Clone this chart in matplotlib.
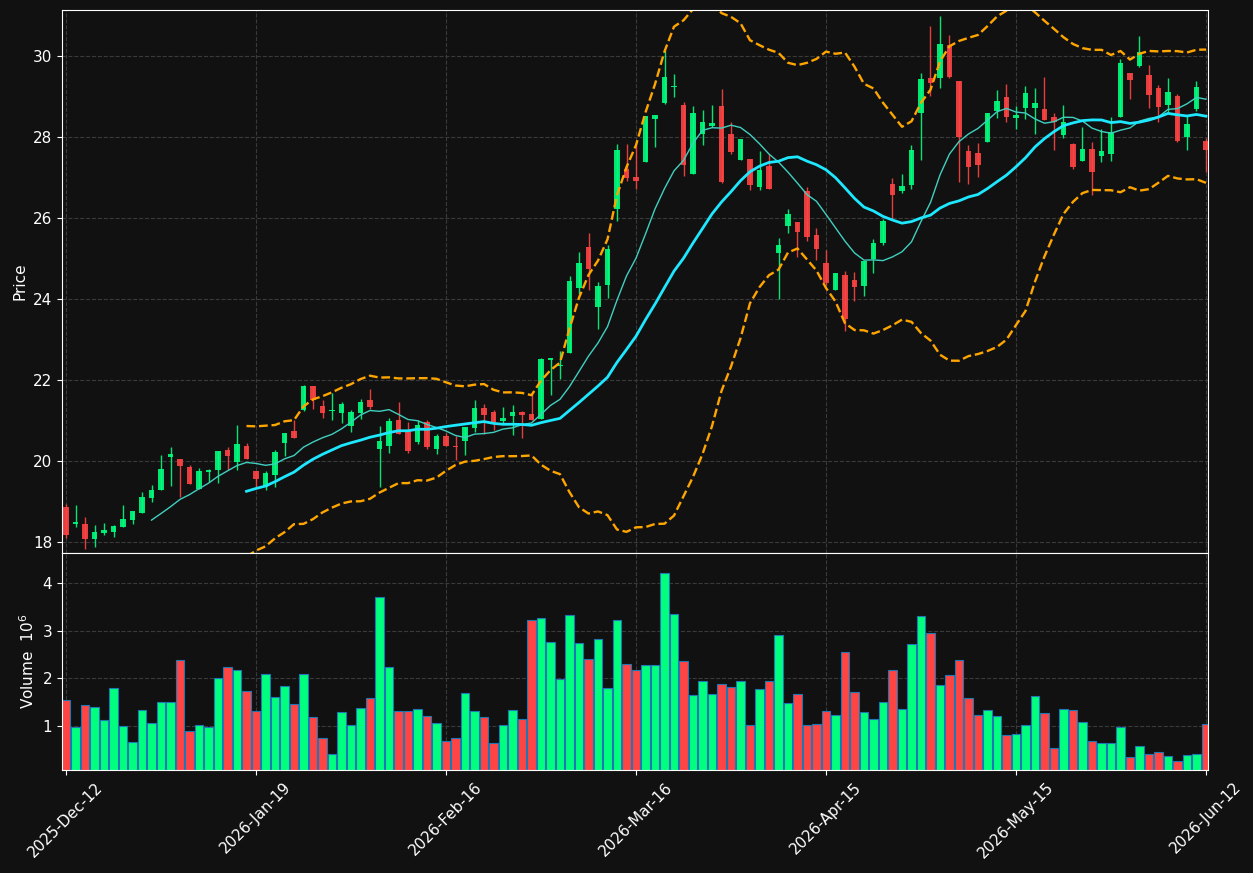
import numpy as np
import pandas as pd
import matplotlib
matplotlib.use("Agg")
import matplotlib.pyplot as plt

# daily OHLC (bar index 0..120)
opens = [18.86, 18.44, 18.44, 18.07, 18.22, 18.25, 18.37, 18.54, 18.72, 19.09,
         19.28, 20.10, 20.05, 19.85, 19.31, 19.73, 19.78, 20.27, 19.98, 20.37,
         19.75, 19.36, 19.65, 20.44, 20.74, 21.26, 21.85, 21.36, 21.23, 21.19,
         20.86, 21.19, 21.51, 20.30, 20.37, 21.01, 20.77, 20.47, 20.96, 20.30,
         20.62, 20.37, 20.49, 20.81, 21.31, 21.21, 20.99, 21.11, 21.21, 21.16,
         21.04, 22.49, 22.35, 22.67, 24.27, 25.28, 23.80, 24.35, 26.22, 27.21,
         27.01, 27.38, 28.44, 28.84, 29.24, 28.79, 27.09, 28.07, 28.27, 28.77,
         28.07, 27.43, 27.46, 26.77, 27.28, 25.14, 25.80, 25.90, 26.67, 25.58,
         24.89, 24.22, 24.59, 24.47, 24.32, 24.99, 25.38, 26.84, 26.67, 26.81,
         28.59, 29.46, 29.46, 30.27, 29.38, 27.65, 27.60, 27.88, 28.64, 28.99,
         28.47, 28.72, 28.72, 28.69, 28.49, 28.05, 27.83, 27.41, 27.70, 27.53,
         27.58, 28.49, 29.58, 29.75, 29.53, 29.21, 28.79, 29.01, 28.00, 28.69,
         27.90]
highs = [18.95, 18.91, 18.63, 18.41, 18.46, 18.43, 18.91, 18.77, 19.23, 19.40,
         20.14, 20.34, 20.05, 19.90, 19.82, 19.80, 20.25, 20.34, 20.89, 20.44,
         19.75, 19.75, 20.27, 20.69, 21.01, 21.88, 21.85, 21.51, 21.67, 21.46,
         21.26, 21.53, 21.78, 20.86, 21.06, 21.46, 20.96, 21.01, 21.01, 20.67,
         20.69, 20.62, 20.84, 21.51, 21.41, 21.26, 21.33, 21.38, 21.23, 21.65,
         22.54, 22.54, 22.71, 24.57, 25.16, 25.63, 24.42, 25.33, 27.83, 27.83,
         27.80, 28.52, 28.54, 30.15, 29.56, 28.86, 28.77, 28.67, 28.79, 29.19,
         28.37, 27.95, 27.46, 27.65, 27.58, 25.51, 26.22, 25.90, 26.77, 25.75,
         25.21, 24.64, 24.69, 24.67, 24.94, 25.48, 25.98, 26.99, 27.09, 27.80,
         29.58, 30.74, 30.99, 30.52, 29.38, 27.80, 27.85, 28.59, 29.16, 29.31,
         28.77, 29.26, 29.21, 29.48, 28.59, 28.79, 27.85, 28.25, 27.88, 28.20,
         28.49, 29.93, 29.58, 30.49, 29.78, 29.28, 29.46, 29.06, 28.54, 29.38,
         27.98]
lows = [18.09, 18.38, 17.84, 17.88, 18.18, 18.13, 18.37, 18.44, 18.72, 19.00,
        19.28, 19.39, 19.12, 19.43, 19.31, 19.48, 19.47, 19.79, 19.79, 20.05,
        19.37, 19.28, 19.37, 20.13, 20.57, 21.23, 21.28, 21.06, 21.01, 20.94,
        20.72, 21.04, 21.28, 19.37, 20.20, 20.67, 20.20, 20.42, 20.30, 20.17,
        20.37, 20.02, 20.15, 20.72, 20.67, 20.77, 20.94, 20.64, 20.57, 21.01,
        21.04, 21.63, 22.03, 22.67, 24.12, 24.22, 23.26, 24.02, 25.93, 26.91,
        26.72, 27.38, 27.75, 28.81, 28.98, 27.04, 27.09, 27.80, 28.25, 26.86,
        27.58, 27.43, 26.69, 26.69, 26.72, 24.00, 25.63, 25.04, 25.43, 24.96,
        24.35, 24.22, 23.20, 23.95, 24.07, 24.64, 25.33, 25.98, 26.62, 26.72,
        27.43, 29.01, 29.21, 29.46, 26.89, 26.84, 27.01, 27.88, 28.47, 28.37,
        28.20, 28.44, 28.07, 28.42, 27.68, 27.98, 27.21, 27.41, 26.57, 27.38,
        27.41, 28.49, 28.94, 29.73, 28.72, 28.37, 28.62, 27.88, 27.68, 28.64,
        27.14]
closes = [18.17, 18.49, 18.07, 18.25, 18.30, 18.40, 18.57, 18.77, 19.11, 19.28,
          19.80, 20.17, 19.88, 19.43, 19.75, 19.78, 20.25, 20.12, 20.42, 20.05,
          19.56, 19.70, 20.22, 20.69, 20.57, 21.85, 21.51, 21.19, 21.26, 21.41,
          21.21, 21.46, 21.33, 20.49, 20.99, 20.67, 20.25, 20.89, 20.35, 20.62,
          20.37, 20.35, 20.84, 21.31, 21.14, 20.96, 21.06, 21.21, 21.14, 21.01,
          22.52, 22.54, 22.36, 24.44, 24.89, 24.74, 24.32, 25.23, 27.68, 26.99,
          26.91, 28.52, 28.54, 29.48, 29.26, 27.31, 28.59, 28.37, 28.35, 26.89,
          27.63, 27.95, 26.81, 27.19, 26.72, 25.33, 26.10, 25.65, 25.53, 25.23,
          24.40, 24.64, 23.50, 24.30, 24.94, 25.38, 25.93, 26.57, 26.79, 27.68,
          29.43, 29.33, 30.30, 29.48, 28.00, 27.26, 27.31, 28.59, 28.89, 28.49,
          28.54, 29.09, 28.84, 28.42, 28.37, 28.37, 27.26, 27.70, 27.14, 27.65,
          28.12, 29.83, 29.41, 30.10, 29.04, 28.74, 29.11, 27.90, 28.32, 29.23,
          27.68]
# volume in millions
volumes = [1.55, 0.99, 1.44, 1.40, 1.13, 1.80, 1.00, 0.66, 1.34, 1.06,
           1.50, 1.50, 2.38, 0.89, 1.02, 0.99, 2.01, 2.24, 2.17, 1.73,
           1.31, 2.09, 1.61, 1.84, 1.46, 2.09, 1.19, 0.75, 0.41, 1.29,
           1.02, 1.38, 1.59, 3.71, 2.24, 1.31, 1.31, 1.36, 1.21, 1.06,
           0.69, 0.75, 1.69, 1.31, 1.19, 0.64, 1.02, 1.34, 1.15, 3.22,
           3.27, 2.76, 1.99, 3.33, 2.74, 2.41, 2.83, 1.80, 3.22, 2.30,
           2.17, 2.28, 2.28, 4.21, 3.35, 2.36, 1.65, 1.94, 1.67, 1.88,
           1.82, 1.94, 1.02, 1.78, 1.94, 2.91, 1.48, 1.67, 1.02, 1.04,
           1.31, 1.23, 2.55, 1.71, 1.29, 1.15, 1.50, 2.17, 1.36, 2.72,
           3.31, 2.95, 1.86, 2.07, 2.38, 1.59, 1.23, 1.34, 1.21, 0.81,
           0.83, 1.02, 1.63, 1.27, 0.54, 1.36, 1.34, 1.08, 0.69, 0.64,
           0.64, 0.98, 0.35, 0.58, 0.41, 0.45, 0.37, 0.27, 0.39, 0.41,
           1.04]

tick_idx = [0, 20, 40, 60, 80, 100, 120]
tick_labels = ["2025-Dec-12", "2026-Jan-19", "2026-Feb-16", "2026-Mar-16",
               "2026-Apr-15", "2026-May-15", "2026-Jun-12"]

bg = "#111111"
up_col = "#00ff7f"
down_col = "#ff4444"

o = np.array(opens)
h = np.array(highs)
l = np.array(lows)
c = np.array(closes)
v = np.array(volumes)
x = np.arange(len(c))
up = c >= o
cols = np.where(up, up_col, down_col)

close_s = pd.Series(c)
mav10 = close_s.rolling(10).mean()
mav20 = close_s.rolling(20).mean()
std20 = close_s.rolling(20).std()
bb_up = mav20 + 2 * std20
bb_lo = mav20 - 2 * std20

fig = plt.figure(figsize=(12.53, 8.73), dpi=100, facecolor=bg)
ax1 = fig.add_axes([0.0495, 0.3666, 0.9145, 0.622])
ax2 = fig.add_axes([0.0495, 0.118, 0.9145, 0.2486], sharex=ax1)

for ax in (ax1, ax2):
    ax.set_facecolor(bg)
    ax.grid(True, color="#3a3a3a", linestyle="--", linewidth=0.8)
    ax.set_axisbelow(True)
    for sp in ax.spines.values():
        sp.set_color("white")
    ax.tick_params(colors="white", labelsize=11)

# candles
ax1.vlines(x, l, h, colors=cols, linewidth=1, alpha=0.9)
body = np.maximum(np.abs(c - o), 0.025)
ax1.bar(x, body, bottom=np.minimum(o, c), width=0.62, color=cols, alpha=0.9, linewidth=0)

ax1.plot(x, mav10, color="#40d0c0", linewidth=1)
ax1.plot(x, mav20, color="#1ee8ff", linewidth=2)
ax1.plot(x, bb_up, color="#ffa500", linestyle="--", linewidth=1.7)
ax1.plot(x, bb_lo, color="#ffa500", linestyle="--", linewidth=1.7)

ax1.set_ylim(17.73, 31.14)
ax1.set_xlim(-0.42, 120.2)
ax1.set_ylabel("Price", color="white", fontsize=11)
plt.setp(ax1.get_xticklabels(), visible=False)

# volume
ax2.bar(x, v, width=0.92, color=cols, edgecolor="#1f77b4", linewidth=0.8)
ax2.set_ylim(0.3 * v.min(), 1.1 * v.max())
ax2.set_yticks([1, 2, 3, 4])
ax2.set_ylabel("Volume  $10^{6}$", color="white", fontsize=11)
ax2.set_xticks(tick_idx)
ax2.set_xticklabels(tick_labels, rotation=45, ha="center")

fig.savefig("out.png", dpi=100, facecolor=bg)
